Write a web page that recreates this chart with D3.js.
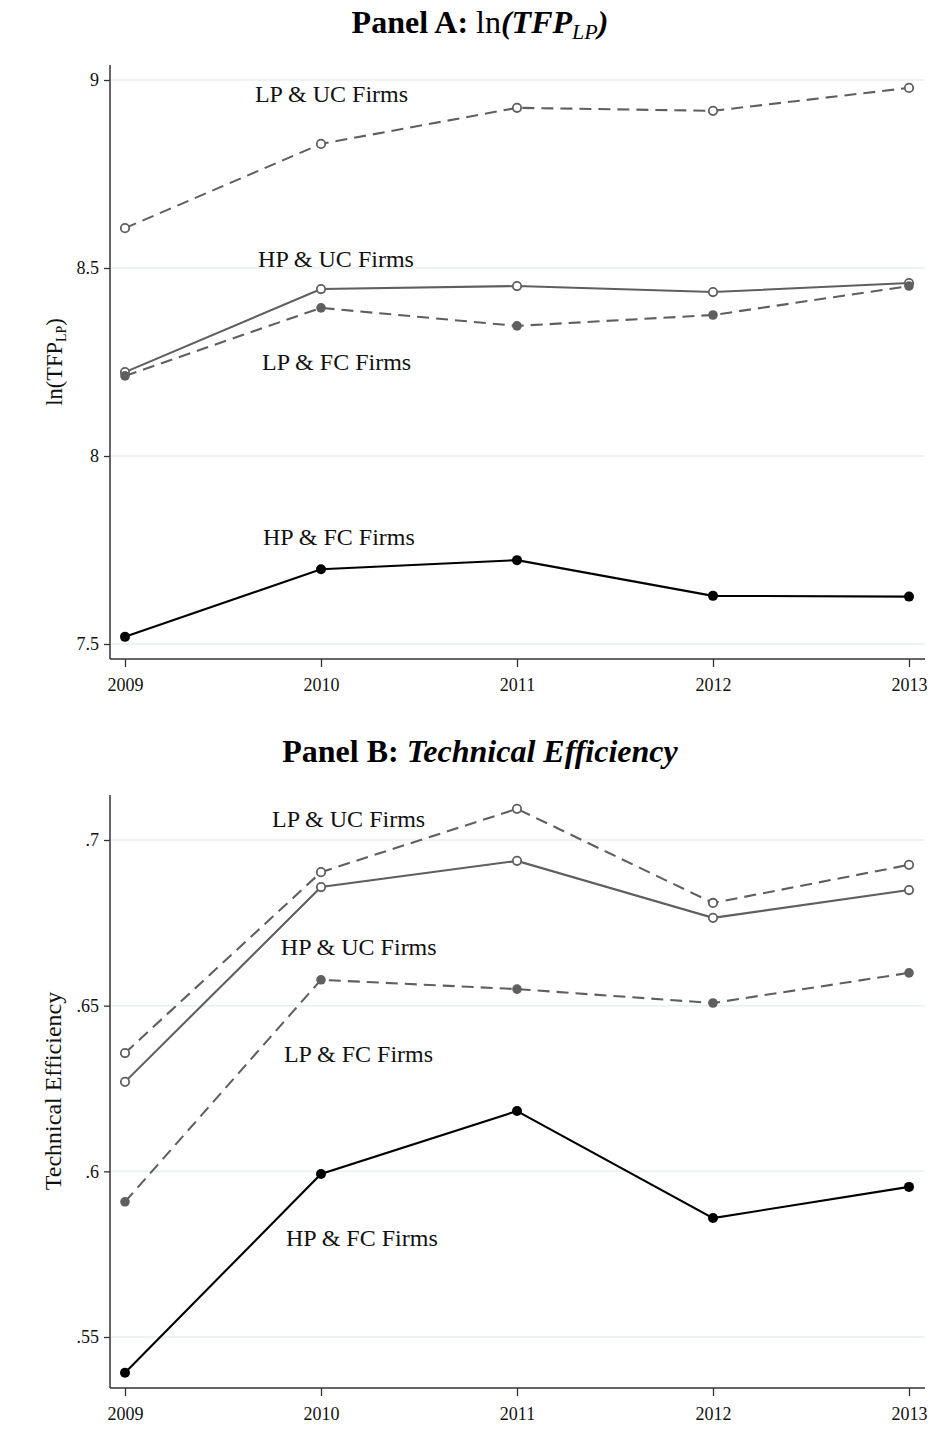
<!DOCTYPE html>
<html>
<head>
<meta charset="utf-8">
<script src="https://cdn.jsdelivr.net/npm/d3@7"></script>
<style>
  html, body { margin: 0; padding: 0; background: #ffffff; }
  svg { display: block; }
  text { font-family: "Liberation Serif", "Times New Roman", Times, serif; }
</style>
</head>
<body>
<div id="chart"></div>
<script>
// ---------------- DATA ----------------
const years = [2009, 2010, 2011, 2012, 2013];
const seriesNames = ["LP & UC Firms", "HP & UC Firms", "LP & FC Firms", "HP & FC Firms"];

// Panel A: ln(TFP_LP)
const tfpLPUC = [8.606, 8.830, 8.926, 8.918, 8.979];
const tfpHPUC = [8.223, 8.444, 8.452, 8.436, 8.460];
const tfpLPFC = [8.213, 8.394, 8.346, 8.375, 8.452];
const tfpHPFC = [7.519, 7.699, 7.723, 7.628, 7.626];
const tfpTicks = [7.5, 8, 8.5, 9];
const tfpTickLabels = ["7.5", "8", "8.5", "9"];
// label anchors (data units)
const tfpLabelX = [2009.663, 2009.679, 2009.699, 2009.704];
const tfpLabelY = [8.941, 8.503, 8.229, 7.763];

// Panel B: Technical Efficiency
const teLPUC = [0.6357, 0.6903, 0.7094, 0.6810, 0.6925];
const teHPUC = [0.6270, 0.6858, 0.6937, 0.6765, 0.6849];
const teLPFC = [0.5908, 0.6578, 0.6550, 0.6508, 0.6599];
const teHPFC = [0.5392, 0.5992, 0.6182, 0.5859, 0.5953];
const teTicks = [0.55, 0.6, 0.65, 0.7];
const teTickLabels = [".55", ".6", ".65", ".7"];
const teLabelX = [2009.750, 2009.795, 2009.811, 2009.821];
const teLabelY = [0.7039, 0.6653, 0.6330, 0.5775];

// ---------------- STYLE ----------------
const W = 945, H = 1445;
const GRAY = "#5f5f5f";
const BLACK = "#000000";
const GRID = "#e8f0f1";
const seriesStyle = [
  { color: GRAY,  dash: "12,7", marker: "hollow" },
  { color: GRAY,  dash: null,   marker: "hollow" },
  { color: GRAY,  dash: "12,7", marker: "filledGray" },
  { color: BLACK, dash: null,   marker: "filledBlack" }
];

const svg = d3.select("#chart").append("svg")
  .attr("width", W).attr("height", H)
  .style("background", "#fff");

const x = d3.scaleLinear().domain([2009, 2013]).range([125, 909]);

function drawPanel(opt) {
  const g = svg.append("g");
  const y = d3.scaleLinear().domain(opt.domain).range(opt.range);

  // gridlines
  g.selectAll("line.grid").data(opt.ticks).enter().append("line")
    .attr("x1", 111).attr("x2", 925)
    .attr("y1", d => y(d)).attr("y2", d => y(d))
    .attr("stroke", GRID).attr("stroke-width", 1.5);

  // y axis
  const yAxis = d3.axisLeft(y).tickValues(opt.ticks)
    .tickFormat((d, i) => opt.tickLabels[i]).tickSize(6).tickPadding(5);
  const ya = g.append("g").attr("transform", "translate(110,0)").call(yAxis);
  ya.select(".domain").remove();
  ya.selectAll(".tick line").attr("stroke", "#333").attr("stroke-width", 1.3);
  ya.selectAll(".tick text").attr("font-size", 18).attr("fill", "#111")
    .style("font-family", '"Liberation Serif", "Times New Roman", serif');
  g.append("line").attr("x1", 110).attr("x2", 110)
    .attr("y1", opt.top).attr("y2", opt.bottom)
    .attr("stroke", "#333").attr("stroke-width", 1.5);

  // x axis
  const xAxis = d3.axisBottom(x).tickValues(years)
    .tickFormat(d3.format("d")).tickSize(8).tickPadding(11);
  const xa = g.append("g").attr("transform", `translate(0,${opt.bottom})`).call(xAxis);
  xa.select(".domain").remove();
  xa.selectAll(".tick line").attr("stroke", "#333").attr("stroke-width", 1.3);
  xa.selectAll(".tick text").attr("font-size", 18).attr("fill", "#111")
    .style("font-family", '"Liberation Serif", "Times New Roman", serif');
  g.append("line").attr("x1", 110).attr("x2", 925)
    .attr("y1", opt.bottom).attr("y2", opt.bottom)
    .attr("stroke", "#333").attr("stroke-width", 1.5);

  // series lines + markers
  const line = d3.line().x((d, i) => x(years[i])).y(d => y(d));
  opt.series.forEach((vals, si) => {
    const st = seriesStyle[si];
    g.append("path").datum(vals)
      .attr("d", line).attr("fill", "none")
      .attr("stroke", st.color).attr("stroke-width", 2.1)
      .attr("stroke-dasharray", st.dash);
    const m = g.selectAll(null).data(vals).enter().append("circle")
      .attr("cx", (d, i) => x(years[i])).attr("cy", d => y(d));
    if (st.marker === "hollow") {
      m.attr("r", 4.2).attr("fill", "#fff").attr("stroke", st.color).attr("stroke-width", 1.8);
    } else if (st.marker === "filledGray") {
      m.attr("r", 4.8).attr("fill", st.color);
    } else {
      m.attr("r", 5).attr("fill", st.color);
    }
  });

  // labels
  seriesNames.forEach((name, i) => {
    g.append("text")
      .attr("x", x(opt.labelX[i])).attr("y", y(opt.labelY[i]))
      .attr("font-size", 24).attr("fill", "#111")
      .text(name);
  });

  // y-axis title
  const yt = g.append("text")
    .attr("transform", `translate(${opt.yTitleX},${opt.yTitleY}) rotate(-90)`)
    .attr("text-anchor", "middle").attr("font-size", opt.yTitleSize).attr("fill", "#111");
  opt.yTitle(yt);

  // panel title
  const tt = g.append("text")
    .attr("x", 480).attr("y", opt.titleY)
    .attr("text-anchor", "middle").attr("font-size", 32).attr("fill", "#000");
  opt.title(tt);
}

drawPanel({
  domain: [7.5, 9], range: [644, 80], top: 65, bottom: 659,
  ticks: tfpTicks, tickLabels: tfpTickLabels,
  series: [tfpLPUC, tfpHPUC, tfpLPFC, tfpHPFC],
  labelX: tfpLabelX, labelY: tfpLabelY,
  yTitleX: 62, yTitleY: 362, yTitleSize: 22.5,
  yTitle: t => {
    t.append("tspan").text("ln(TFP");
    t.append("tspan").attr("font-size", 14).attr("dy", 4).text("LP");
    t.append("tspan").attr("dy", -4).text(")");
  },
  titleY: 33,
  title: t => {
    t.append("tspan").attr("font-weight", "bold").text("Panel A: ");
    t.append("tspan").text("ln");
    t.append("tspan").attr("font-weight", "bold").attr("font-style", "italic").text("(TFP");
    t.append("tspan").attr("font-style", "italic").attr("font-size", 22).attr("dy", 6).text("LP");
    t.append("tspan").attr("font-style", "italic").attr("font-weight", "bold").attr("dy", -6).text(")");
  }
});

drawPanel({
  domain: [0.55, 0.7], range: [1337, 840], top: 795, bottom: 1388,
  ticks: teTicks, tickLabels: teTickLabels,
  series: [teLPUC, teHPUC, teLPFC, teHPFC],
  labelX: teLabelX, labelY: teLabelY,
  yTitleX: 61, yTitleY: 1091, yTitleSize: 24,
  yTitle: t => { t.text("Technical Efficiency"); },
  titleY: 762,
  title: t => {
    t.append("tspan").attr("font-weight", "bold").text("Panel B: ");
    t.append("tspan").attr("font-weight", "bold").attr("font-style", "italic").text("Technical Efficiency");
  }
});
</script>
</body>
</html>
